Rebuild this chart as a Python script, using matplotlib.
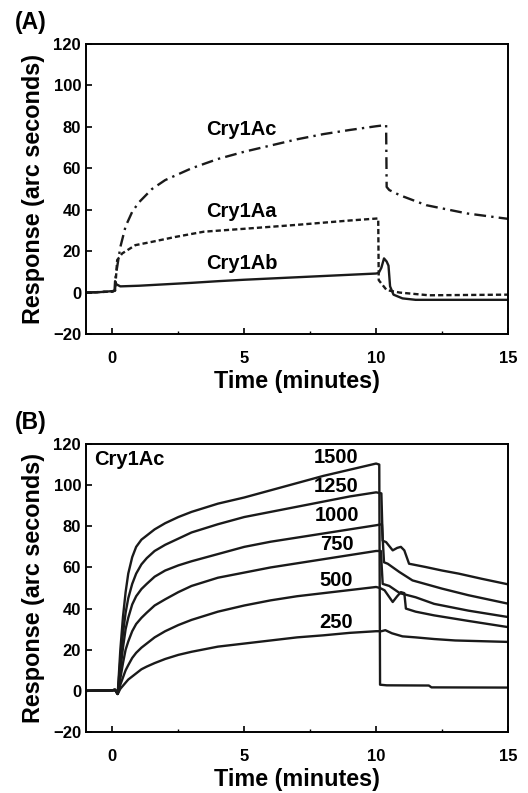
"""Binding curves of Cry1A toxins (panels A and B)."""

import matplotlib

matplotlib.use("Agg")
import matplotlib.pyplot as plt
from matplotlib.ticker import MultipleLocator

plt.rcParams["font.family"] = ["Liberation Sans", "DejaVu Sans"]
plt.rcParams["font.weight"] = "bold"

# ---- panel A: three toxins ----
cry1ac_t = [-1, 0, 0.1, 0.12, 0.3, 0.5, 0.75, 1, 1.5, 2, 3, 4, 5, 6, 7, 8, 9, 10,
            10.38, 10.4, 10.5, 10.9, 11.9, 13.45, 15]
cry1ac_v = [0, 0.5, 1, 7.6, 22, 32, 39, 43.5, 50, 54.3, 60, 64.5, 68, 71, 74, 76.5,
            78.5, 80.3, 80.9, 51, 49.5, 47, 42.2, 38.2, 35.6]

cry1aa_t = [-1, 0, 0.1, 0.18, 0.37, 0.87, 1.5, 2.4, 3.47, 5, 7, 9, 10.08, 10.1,
            10.4, 10.9, 12, 15]
cry1aa_v = [0, 0.5, 1, 15.7, 18.9, 22.9, 24.5, 26.9, 29.4, 30.8, 32.7, 34.8, 35.8,
            6, 1.2, 0, -1.3, -1]

cry1ab_t = [-1, -0.5, 0, 0.08, 0.1, 0.15, 0.3, 1, 2, 3, 4, 5, 6, 7, 8, 9, 10,
            10.1, 10.2, 10.3, 10.4, 10.47, 10.53, 10.66, 11, 11.5, 15]
cry1ab_v = [0, 0.2, 0.7, 1, 5.5, 4, 3, 3.3, 4, 4.7, 5.5, 6.2, 6.8, 7.4, 8, 8.6, 9.2,
            9.5, 12, 16.5, 15, 13, 3, -1, -2.8, -3.5, -3.5]

# ---- panel B: Cry1Ac at six concentrations ----
conc_labels = ["1500", "1250", "1000", "750", "500", "250"]
label_y = [113.6, 99.4, 85.3, 71.2, 53.7, 33]

base_t = [-1, 0, 0.1]
base_v = [0, 0.3, 0.5]
assoc_t = [0.2, 0.3, 0.4, 0.5, 0.6, 0.75, 0.9, 1.1, 1.3, 1.6, 2, 2.5, 3, 4, 5, 6, 7, 8, 9, 10]
assoc_v = {
    "1500": [-1.5, 20, 36, 48, 57, 65, 70, 73.5, 75.5, 78.5, 81.5, 84.5, 87, 91, 94,
             97.5, 101, 104.5, 107.5, 110.5],
    "1250": [-1.5, 15, 28, 38, 45, 52, 57, 61.5, 64.5, 68, 71, 74, 77, 81, 84.5,
             87, 89.5, 92, 94.5, 96.5],
    "1000": [-1.5, 10, 21, 30, 35.5, 42, 46, 49.5, 52, 55.5, 58.5, 61, 63, 66.5, 70,
             72.5, 74.5, 76.5, 78.5, 80.5],
    "750": [-1.5, 6, 13.5, 20, 24, 29, 32.5, 35.5, 38, 41.5, 44.5, 48, 51, 55, 57.5,
            60, 62, 64, 66, 68],
    "500": [-1.5, 3, 6.5, 10, 12.5, 16, 18.5, 21, 23, 26, 29, 32, 34.5, 38.5, 41.5,
            44, 46, 47.5, 49, 50.5],
    "250": [-1.5, 1, 2.5, 4, 5.5, 7, 8.5, 10.5, 11.8, 13.5, 15.5, 17.5, 19, 21.5, 23,
            24.5, 26, 27, 28.2, 29],
}
dissoc_t = {
    "1500": [10.12, 10.15, 10.4, 12.0, 12.1, 15],
    "1250": [10.2, 10.25, 10.38, 10.63, 10.8, 10.94, 11.07, 11.25, 11.88, 12.5, 13.13, 14, 15],
    "1000": [10.22, 10.3, 10.44, 10.88, 11.38, 12.5, 13.5, 15],
    "750": [10.18, 10.25, 10.5, 10.9, 11.5, 12.2, 13.5, 15],
    "500": [10.15, 10.32, 10.63, 10.8, 10.94, 11.07, 11.13, 11.5, 12.2, 13.5, 15],
    "250": [10.2, 10.35, 10.6, 11, 11.5, 12.2, 13, 15],
}
dissoc_v = {
    "1500": [110, 3, 2.7, 2.6, 1.7, 1.6],
    "1250": [96, 73, 72.3, 68.3, 69.5, 70, 68.3, 61.8, 60.2, 58.5, 57, 54.5, 51.8],
    "1000": [81, 62.5, 61.8, 57.8, 53.7, 49.7, 46.5, 42.4],
    "750": [68, 52, 51, 47.5, 45.5, 42.3, 39, 35.9],
    "500": [50, 48.9, 43.2, 46, 48, 47.5, 40, 38.5, 36.7, 34, 31],
    "250": [29, 29.5, 28, 26.5, 26, 25.2, 24.5, 23.8],
}

fig = plt.figure(figsize=(5.28, 7.93), dpi=100)
ax_a = fig.add_axes([0.163, 0.5788, 0.799, 0.3657])
ax_b = fig.add_axes([0.163, 0.0769, 0.799, 0.3632])

lw = 1.7
ink = "#1a1a1a"
ax_a.plot(cry1ac_t, cry1ac_v, color=ink, lw=lw, dashes=(5, 2.2, 1, 2.2))
ax_a.plot(cry1aa_t, cry1aa_v, color=ink, lw=lw, dashes=(2.2, 1.3))
ax_a.plot(cry1ab_t, cry1ab_v, color=ink, lw=lw)

ax_a.text(4.9, 78.5, "Cry1Ac", ha="center", va="center", fontsize=14.5, fontweight="bold")
ax_a.text(4.9, 39, "Cry1Aa", ha="center", va="center", fontsize=14.5, fontweight="bold")
ax_a.text(4.9, 14.1, "Cry1Ab", ha="center", va="center", fontsize=14.5, fontweight="bold")

for name, ly in zip(conc_labels, label_y):
    t = base_t + assoc_t + dissoc_t[name]
    v = base_v + assoc_v[name] + dissoc_v[name]
    ax_b.plot(t, v, color=ink, lw=lw)
    ax_b.text(8.5, ly, name, ha="center", va="center", fontsize=14.5, fontweight="bold")

ax_b.text(-0.7, 112.5, "Cry1Ac", ha="left", va="center", fontsize=14.5, fontweight="bold")

for ax in (ax_a, ax_b):
    ax.set_xlim(-1, 15)
    ax.set_ylim(-20, 120)
    ax.set_xticks([0, 5, 10, 15])
    ax.xaxis.set_minor_locator(MultipleLocator(2.5))
    ax.set_yticks(range(-20, 121, 20))
    ax.tick_params(axis="both", direction="in", length=4, width=1.2, labelsize=12)
    ax.tick_params(axis="x", pad=12)
    ax.tick_params(axis="y", pad=3.6)
    ax.tick_params(axis="x", which="minor", direction="in", length=2.5, width=1)
    for lab in ax.get_xticklabels() + ax.get_yticklabels():
        lab.set_fontweight("bold")
    for sp in ax.spines.values():
        sp.set_linewidth(1.4)
    ax.set_xlabel("Time (minutes)", fontsize=16.8, fontweight="bold", labelpad=3)
    ax.set_ylabel("Response (arc seconds)", fontsize=16.8, fontweight="bold", labelpad=6)

fig.text(0.028, 0.9716, "(A)", fontsize=16.5, fontweight="bold", va="center", ha="left")
fig.text(0.028, 0.4672, "(B)", fontsize=16.5, fontweight="bold", va="center", ha="left")

fig.savefig("out.png", dpi=100)
